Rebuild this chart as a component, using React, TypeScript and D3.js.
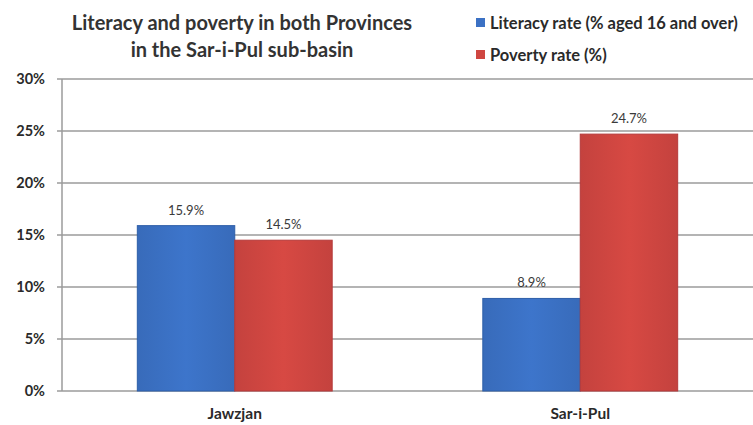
import React from "react";
import * as d3 from "d3";

const categories = ["Jawzjan", "Sar-i-Pul"];
const seriesNames = ["Literacy rate (% aged 16 and over)", "Poverty rate (%)"];
const literacy = [15.9, 8.9];
const poverty = [14.5, 24.7];
const yTicks = [0, 5, 10, 15, 20, 25, 30];
const titleLines = ["Literacy and poverty in both Provinces", "in the Sar-i-Pul sub-basin"];

const colors = ["#3b71c4", "#cf4641"];
const strokes = ["#2d5ea8", "#b5393a"];

export default function App() {
  const W = 753, H = 425;
  const left = 62, right = 753, top = 79, bottom = 391;
  const font = "Lato, 'Open Sans', sans-serif";
  const x = d3.scaleBand<string>().domain(categories).range([left, right]).paddingInner(0.436).paddingOuter(0.218);
  const xs = d3.scaleBand<number>().domain([0, 1]).range([0, x.bandwidth()]);
  const y = d3.scaleLinear().domain([0, 30]).range([bottom, top]);
  const series = [literacy, poverty];

  return (
    <svg width={W} height={H} style={{ position: "absolute", left: 0, top: 0, background: "#fff" }}>
      <defs>
        {colors.map((c, i) => (
          <linearGradient key={i} id={`g${i}`} x1="0" x2="1" y1="0" y2="0">
            <stop offset="0" stopColor={d3.color(c)!.darker(0.15).toString()} />
            <stop offset="0.5" stopColor={d3.color(c)!.brighter(0.1).toString()} />
            <stop offset="1" stopColor={d3.color(c)!.darker(0.15).toString()} />
          </linearGradient>
        ))}
      </defs>
      {yTicks.map((t) => (
        <g key={t}>
          <line x1={left - 5} x2={right} y1={y(t)} y2={y(t)} stroke="#9b9b9b" strokeWidth={1.5} />
          <text x={45} y={y(t)} dy="0.35em" textAnchor="end" fontFamily={font} fontWeight="bold" fontSize={14.5} fill="#2a2a2a">
            {t}%
          </text>
        </g>
      ))}
      <line x1={left} x2={left} y1={top} y2={bottom} stroke="#9b9b9b" strokeWidth={1.5} />
      {categories.map((c, ci) => (
        <g key={c}>
          {series.map((s, si) => {
            const bx = x(c)! + xs(si)!;
            const bw = xs.bandwidth();
            return (
              <g key={si}>
                <rect x={bx} y={y(s[ci])} width={bw} height={bottom - y(s[ci])} fill={`url(#g${si})`} stroke={strokes[si]} strokeWidth={1} />
                <text x={bx + bw / 2} y={y(s[ci]) - 11} textAnchor="middle" fontFamily={font} fontSize={13} fill="#3a3a3a">
                  {s[ci].toFixed(1)}%
                </text>
              </g>
            );
          })}
          <text x={x(c)! + x.bandwidth() / 2} y={414} dy="0.35em" textAnchor="middle" fontFamily={font} fontWeight="bold" fontSize={15.5} fill="#2a2a2a">
            {c}
          </text>
        </g>
      ))}
      {titleLines.map((l, i) => (
        <text key={i} x={242} y={23 + i * 27} dy="0.35em" textAnchor="middle" fontFamily={font} fontWeight="bold" fontSize={20} fill="#333">
          {l}
        </text>
      ))}
      {seriesNames.map((n, i) => (
        <g key={n}>
          <rect x={476} y={18 + i * 32} width={9} height={9} fill={colors[i]} />
          <text x={490} y={23 + i * 32} dy="0.35em" fontFamily={font} fontWeight="bold" fontSize={16.5} fill="#2a2a2a">
            {n}
          </text>
        </g>
      ))}
    </svg>
  );
}
